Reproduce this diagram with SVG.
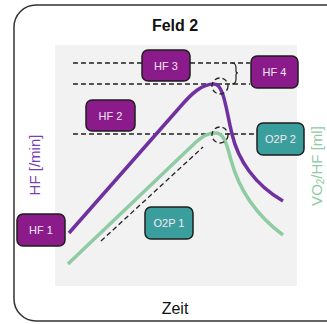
<svg xmlns="http://www.w3.org/2000/svg" width="327" height="324" viewBox="0 0 327 324">
<style>
.t{font-family:"Liberation Sans",Arial,sans-serif}
.box text{font-family:"Liberation Sans",Arial,sans-serif;font-size:11px;fill:#f4e8f4;text-anchor:middle}
.hf rect{fill:#8b1a8b;stroke:#1e1e1e;stroke-width:1.5}
.o2 rect{fill:#3a9e9c;stroke:#1e1e1e;stroke-width:1.5}
.dash{stroke:#222;stroke-width:1.3;stroke-dasharray:5 3;fill:none}
</style>
<rect x="14" y="5" width="340" height="316" rx="22" fill="#fff" stroke="#333" stroke-width="1.5"/>
<text class="t" x="175" y="31" font-size="16" font-weight="bold" text-anchor="middle" fill="#111">Feld 2</text>
<rect x="55" y="45" width="242" height="241" fill="#f2f2f2"/>
<g id="connectors">
<path class="dash" d="M73,63 H142 M190,63 H250 M73,84 H250 M73,134 H257 M101,241 L203,147"/>
<path d="M232,63 q4,0 4,5 v3 q0,2 2,2 q-2,0 -2,2 v4 q0,5 -4,5" fill="none" stroke="#222" stroke-width="1.2"/>
<path d="M68,264 L196,142 C203,136 208,133 216,133 C224,133 227,145 231,160 C238,186 252,212 283,235" fill="none" stroke="#8fcba3" stroke-width="3.5"/>
<path d="M69,233 L180,107 C192,93 202,84 214,84 C224,84 226,110 232,134 C238,160 255,185 283,201" fill="none" stroke="#7030a0" stroke-width="3.5"/>
<circle class="dash" cx="220" cy="86" r="8" stroke-dasharray="3 2"/>
<circle class="dash" cx="220" cy="135" r="8" stroke-dasharray="3 2"/>
</g>
<g id="hf3" class="box hf"><rect x="142" y="50" width="48" height="31" rx="6"/><text x="166" y="69.5">HF 3</text></g>
<g id="hf4" class="box hf"><rect x="251" y="56" width="47" height="32" rx="6"/><text x="274.5" y="76">HF 4</text></g>
<g id="hf2" class="box hf"><rect x="86" y="100" width="49" height="31" rx="6"/><text x="110.5" y="119.5">HF 2</text></g>
<g id="hf1" class="box hf"><rect x="17" y="214" width="48" height="32" rx="6"/><text x="41" y="234">HF 1</text></g>
<g id="o2p2" class="box o2"><rect x="257" y="123" width="47" height="32" rx="6"/><text x="280.5" y="143">O2P 2</text></g>
<g id="o2p1" class="box o2"><rect x="145" y="207" width="48" height="32" rx="6"/><text x="169" y="227">O2P 1</text></g>
<text class="t" x="0" y="0" transform="translate(40,165) rotate(-90)" font-size="15" text-anchor="middle" fill="#7a3fae">HF [/min]</text>
<text class="t" x="0" y="0" transform="translate(322,166) rotate(-90)" font-size="15" text-anchor="middle" fill="#8fcba3">VO<tspan font-size="10" dy="2">2</tspan><tspan dy="-2">/HF [ml]</tspan></text>
<text class="t" x="175" y="314" font-size="16" text-anchor="middle" fill="#111">Zeit</text>
</svg>
